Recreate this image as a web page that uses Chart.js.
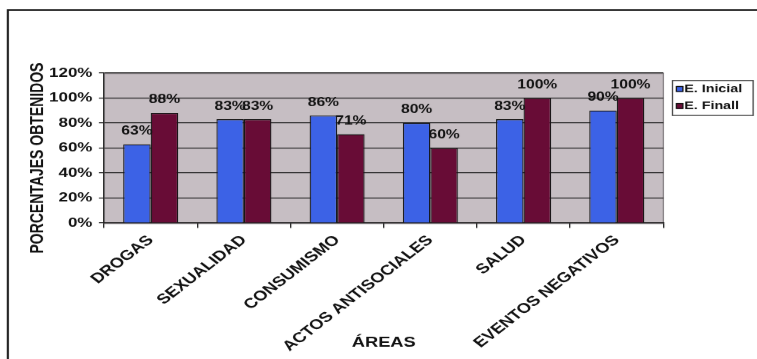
<!DOCTYPE html>
<html>
<head>
<meta charset="utf-8">
<script src="https://cdn.jsdelivr.net/npm/chart.js@4/dist/chart.umd.min.js"></script>
<style>
  html, body { margin: 0; padding: 0; background: #fff; overflow: hidden; }
  /* the scanned original is stretched sideways, so the chart is drawn narrow and widened */
  #wrap { width: 582px; height: 359px; transform: scaleX(1.3007); transform-origin: 0 0; }
</style>
</head>
<body>
<div id="wrap"><canvas id="chart" width="582" height="359"></canvas></div>
<script>
const areas = ['DROGAS', 'SEXUALIDAD', 'CONSUMISMO', 'ACTOS ANTISOCIALES', 'SALUD', 'EVENTOS NEGATIVOS'];
const inicial = [63, 83, 86, 80, 83, 90];
const finalVals = [88, 83, 71, 60, 100, 100];
const seriesNames = ['E. Inicial', 'E. Finall'];
const yTicks = [0, 20, 40, 60, 80, 100, 120];
const yTitle = 'PORCENTAJES OBTENIDOS';

const arial = '"Liberation Sans", Arial, sans-serif';

// frame, plot background, y title, value labels and boxed legend
const decor = {
	id: 'decor',
	beforeDraw(chart) {
		const { ctx, chartArea: a } = chart;
		ctx.save();
		ctx.fillStyle = '#c6bec3';
		ctx.fillRect(a.left, a.top, a.right - a.left, a.bottom - a.top);
		ctx.strokeStyle = '#8a8488';
		ctx.lineWidth = 1;
		ctx.strokeRect(a.left, a.top + 0.5, a.right - a.left, a.bottom - a.top);
		// outer frame (only left and top show)
		ctx.strokeStyle = '#1a1a1a';
		ctx.lineWidth = 1.6;
		ctx.beginPath();
		ctx.moveTo(6, 359);
		ctx.lineTo(6, 10);
		ctx.lineTo(582, 10);
		ctx.stroke();
		ctx.restore();
	},
	afterDraw(chart) {
		const { ctx } = chart;
		// axis title sits a little below the plot centre in the original
		ctx.save();
		ctx.translate(29, 158);
		ctx.rotate(-Math.PI / 2);
		ctx.font = 'bold 14px ' + arial;
		ctx.fillStyle = '#111';
		ctx.textAlign = 'center';
		ctx.textBaseline = 'middle';
		ctx.fillText(yTitle, 0, 0);
		ctx.restore();
	},
	afterDatasetsDraw(chart) {
		const { ctx, chartArea: a } = chart;
		ctx.save();
		ctx.font = 'bold 12px ' + arial;
		ctx.fillStyle = '#111';
		ctx.textAlign = 'center';
		ctx.textBaseline = 'bottom';
		chart.data.datasets.forEach((ds, i) => {
			chart.getDatasetMeta(i).data.forEach((bar, j) => {
				ctx.fillText(ds.data[j] + '%', bar.x, bar.y - 7);
			});
		});

		// legend box
		const lx = a.right + 7, ly = 80, lw = 62, lh = 35;
		ctx.fillStyle = '#fff';
		ctx.fillRect(lx, ly, lw, lh);
		ctx.strokeStyle = '#444';
		ctx.lineWidth = 1;
		ctx.strokeRect(lx, ly + 0.5, lw, lh);
		ctx.font = 'bold 11px ' + arial;
		ctx.textAlign = 'left';
		ctx.textBaseline = 'middle';
		chart.data.datasets.forEach((ds, i) => {
			const cy = ly + 9 + i * 17;
			ctx.fillStyle = ds.backgroundColor;
			ctx.fillRect(lx + 3, cy - 3, 5, 6);
			ctx.strokeStyle = '#111';
			ctx.strokeRect(lx + 3, cy - 2.5, 5, 5);
			ctx.fillStyle = '#111';
			ctx.fillText(ds.label, lx + 9, cy);
		});
		ctx.restore();
	}
};

new Chart(document.getElementById('chart'), {
	type: 'bar',
	data: {
		labels: areas,
		datasets: [
			{
				label: seriesNames[0],
				data: inicial,
				backgroundColor: '#3c62e6',
				borderColor: '#151515',
				borderWidth: 1,
				categoryPercentage: 0.59,
				barPercentage: 1
			},
			{
				label: seriesNames[1],
				data: finalVals,
				backgroundColor: '#680c36',
				borderColor: '#151515',
				borderWidth: 1,
				categoryPercentage: 0.59,
				barPercentage: 1
			}
		]
	},
	options: {
		responsive: false,
		devicePixelRatio: 1.3007,
		animation: false,
		layout: { padding: { top: 73, right: 72, left: 0, bottom: 0 } },
		plugins: {
			legend: { display: false },
			tooltip: { enabled: false }
		},
		scales: {
			x: {
				afterFit: (s) => { s.height = 136; },
				border: { color: '#222', width: 1 },
				grid: { display: true, drawOnChartArea: false, tickLength: 5, color: '#222' },
				ticks: {
					autoSkip: false,
					minRotation: 45,
					maxRotation: 45,
					padding: 4,
					color: '#111',
					font: { family: arial, weight: 'bold', size: 14 }
				},
				title: {
					display: true,
					text: 'ÁREAS',
					color: '#111',
					padding: { top: 0, bottom: 8 },
					font: { family: arial, weight: 'bold', size: 14 }
				}
			},
			y: {
				min: 0,
				max: 120,
				afterFit: (s) => { s.width = 80; },
				afterBuildTicks: (s) => { s.ticks = yTicks.map((v) => ({ value: v })); },
				border: { color: '#222', width: 1 },
				grid: { color: '#222', lineWidth: 1, tickLength: 4 },
				ticks: {
					padding: 5,
					color: '#111',
					font: { family: arial, weight: 'bold', size: 13 },
					callback: (v) => v + '%'
				}
			}
		}
	},
	plugins: [decor]
});
</script>
</body>
</html>
